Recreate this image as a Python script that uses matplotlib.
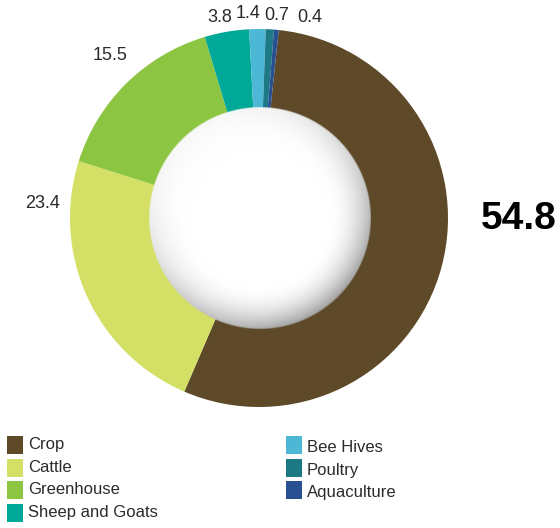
import numpy as np
import matplotlib as mpl
mpl.use('Agg')
import matplotlib.pyplot as plt
from matplotlib.patches import Rectangle

plt.rcParams['font.family'] = ['Liberation Sans', 'DejaVu Sans']

labels = ['Crop', 'Cattle', 'Greenhouse', 'Sheep and Goats', 'Bee Hives', 'Poultry', 'Aquaculture']
values = [54.8, 23.4, 15.5, 3.8, 1.4, 0.7, 0.4]
colors = ['#5e4a29', '#d4e065', '#8cc541', '#00a898', '#4db8d6', '#1c7985', '#284f8f']

# value label spots, pixels from the top-left corner
label_pos = [(519, 219), (43, 203), (110, 55), (220, 17), (248, 14), (277, 15), (310, 17)]

W, H = 560, 528
fig = plt.figure(figsize=(W / 100, H / 100), dpi=100)
ax = fig.add_axes([0, 0, 1, 1])

cx, cy = 259, H - 218
r_out, r_in = 189, 111

ax.pie(values, colors=colors, startangle=84, counterclock=False,
       center=(cx, cy), radius=r_out,
       wedgeprops=dict(width=r_out - r_in + 3, linewidth=0))

# shaded hole, lit from the upper left
n = 500
t = np.linspace(-1, 1, n)
xx, yy = np.meshgrid(t, t)
rr = np.hypot(xx, yy)
lx, ly = -0.6, 0.8
cosang = -(xx * lx + yy * ly) / np.maximum(rr, 1e-6)
rim = np.clip((rr - 0.62) / 0.38, 0, 1) ** 2.0
shade = 1 - rim * (0.03 + 0.34 * ((1 + cosang) / 2) ** 1.3)
alpha = np.clip((1 - rr) * r_in + 0.5, 0, 1)
img = np.dstack([shade, shade, shade, alpha])
ax.imshow(img, extent=(cx - r_in + 1, cx + r_in + 1, cy - r_in, cy + r_in),
          origin='lower', interpolation='bilinear', zorder=3)

# value labels
for i, (v, (x, y)) in enumerate(zip(values, label_pos)):
    if i == 0:
        ax.text(x, H - y, f'{v}', fontsize=28, fontweight='bold', color='black',
                ha='center', va='center', zorder=5)
    else:
        ax.text(x, H - y, f'{v}', fontsize=13, color='#2a2a2a',
                ha='center', va='center', zorder=5)

# legend, two columns
col_x = [7, 286]
row_y = [445, 468, 490, 513]
for i, (lab, c) in enumerate(zip(labels, colors)):
    col = 0 if i < 4 else 1
    row = i if i < 4 else i - 4
    x0 = col_x[col]
    y0 = row_y[row]
    ax.add_patch(Rectangle((x0, H - y0 - 9), 16, 18, facecolor=c, edgecolor='none'))
    ax.text(x0 + 21, H - y0 + (0 if col == 0 else -2), lab, fontsize=12, color='#2b2b2b',
            ha='left', va='center')

ax.set_xlim(0, W)
ax.set_ylim(0, H)
ax.axis('off')

fig.savefig('out.png', dpi=100)
